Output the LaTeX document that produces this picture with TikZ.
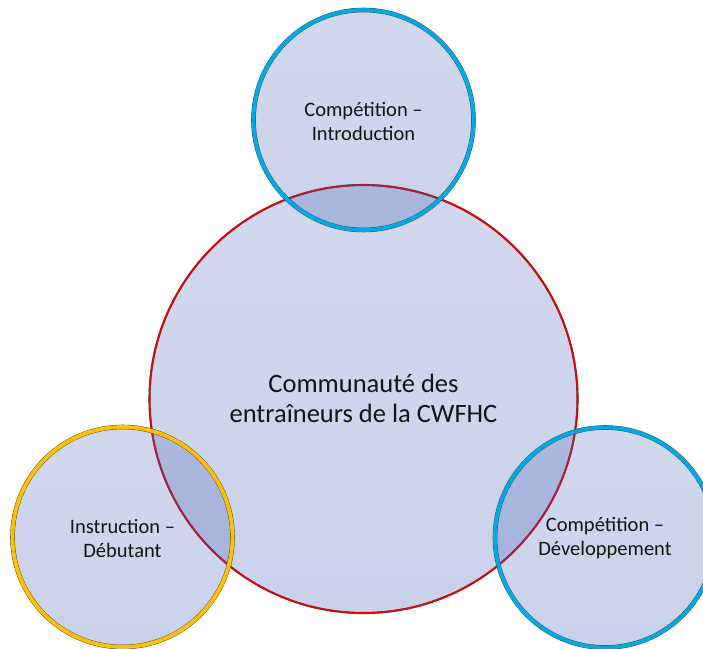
\documentclass[tikz,border=0pt]{standalone}
\usepackage{fontspec}
\setmainfont{Carlito}
\definecolor{fillA}{RGB}{80,105,185}
\definecolor{fillB}{RGB}{50,80,175}
\definecolor{redline}{RGB}{235,0,0}
\definecolor{cyanline}{RGB}{0,170,228}
\definecolor{goldline}{RGB}{255,192,0}
\definecolor{edge}{RGB}{70,70,70}
\definecolor{txt}{RGB}{20,20,20}
\tikzset{
  disc/.style={circle, inner sep=0pt, minimum size=#1, top color=fillA, bottom color=fillB, fill opacity=0.26, text opacity=1, text=txt, align=center},
  smalltext/.style={font=\fontsize{20.5}{24}\selectfont},
  bigtext/.style={font=\fontsize{26.5}{30}\selectfont},
}
\begin{document}
\begin{tikzpicture}[x=1pt,y=-1pt]
\useasboundingbox (0,0) rectangle (703,648);
% central circle
\node[disc=428pt, draw=edge, line width=2.1pt] (main) at (363.5,399) {};
\draw[redline, line width=1.6pt] (main.center) circle (214);
% small circles
\node[disc=220pt, draw=edge, line width=4.6pt] (top) at (363.5,120) {};
\draw[cyanline, line width=3.8pt] (top.center) circle (110);
\node[disc=220pt, draw=edge, line width=4.6pt] (left) at (122.5,537) {};
\draw[goldline, line width=3.8pt] (left.center) circle (110);
\node[disc=220pt, draw=edge, line width=4.6pt] (right) at (605,537.5) {};
\draw[cyanline, line width=3.8pt] (right.center) circle (110);
% labels
\node[smalltext, text=txt, align=center] (ttop) at (363.5,121) {Compétition –\\Introduction};
\node[smalltext, text=txt, align=center] (tleft) at (122.5,538) {Instruction –\\Débutant};
\node[smalltext, text=txt, align=center] (tright) at (605,538) {Compétition –\\Développement};
\node[bigtext, text=txt, align=center] (tmain) at (363.5,398) {Communauté des\\entraîneurs de la CWFHC};
\end{tikzpicture}
\end{document}
